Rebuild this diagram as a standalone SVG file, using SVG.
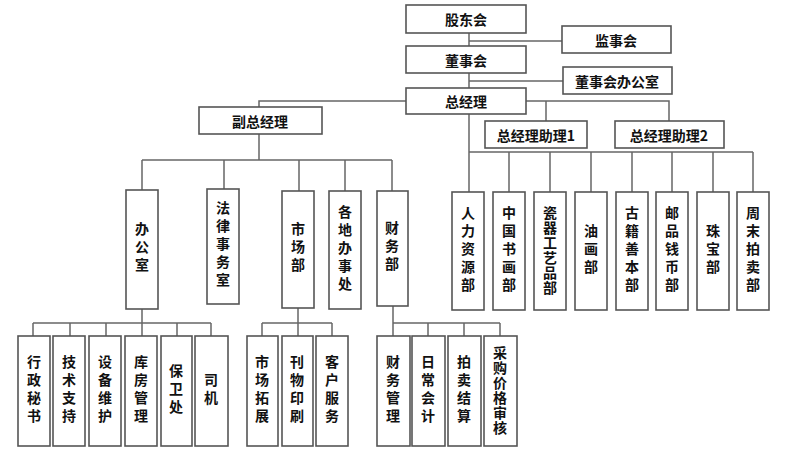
<svg xmlns="http://www.w3.org/2000/svg" width="800" height="456" viewBox="0 0 800 456">
<style>
rect{fill:#fff;stroke:#555;stroke-width:1.6}
.c line,.c polyline{stroke:#666;stroke-width:1.5;fill:none}
text{font-family:"Noto Sans CJK SC","Noto Serif CJK SC",serif;font-weight:bold;font-size:14px;fill:#111;text-anchor:middle;dominant-baseline:central}
.v{writing-mode:vertical-rl;letter-spacing:4px;font-size:14px}
.t{letter-spacing:1px}
</style>
<rect width="800" height="456" fill="#fff" style="stroke:none"/>
<g class="c" id="connectors">
<line x1="469" y1="33" x2="469" y2="46"/><line x1="469" y1="41" x2="562" y2="41"/>
<line x1="469" y1="73" x2="469" y2="88"/><line x1="469" y1="81" x2="563" y2="81"/>
<polyline points="406,101 259,101 259,107"/>
<polyline points="526,101 669,101 669,121"/><line x1="546" y1="101" x2="546" y2="121"/>
<line x1="469" y1="114" x2="469" y2="192"/>
<line x1="469" y1="152" x2="753" y2="152"/>
<line x1="509" y1="152" x2="509" y2="192"/><line x1="550" y1="152" x2="550" y2="192"/><line x1="591" y1="152" x2="591" y2="192"/><line x1="632" y1="152" x2="632" y2="192"/><line x1="672" y1="152" x2="672" y2="192"/><line x1="713" y1="152" x2="713" y2="192"/><line x1="753" y1="152" x2="753" y2="192"/>
<line x1="259" y1="134" x2="259" y2="160"/>
<line x1="142" y1="160" x2="392" y2="160"/>
<line x1="142" y1="160" x2="142" y2="190"/><line x1="224" y1="160" x2="224" y2="189"/><line x1="299" y1="160" x2="299" y2="191"/><line x1="345" y1="160" x2="345" y2="191"/><line x1="392" y1="160" x2="392" y2="191"/>
<line x1="142" y1="309" x2="142" y2="323"/><line x1="33" y1="323" x2="211" y2="323"/>
<line x1="33" y1="323" x2="33" y2="336"/><line x1="70" y1="323" x2="70" y2="336"/><line x1="106" y1="323" x2="106" y2="336"/><line x1="142" y1="323" x2="142" y2="336"/><line x1="177" y1="323" x2="177" y2="336"/><line x1="211" y1="323" x2="211" y2="336"/>
<line x1="298" y1="308" x2="298" y2="323"/><line x1="262" y1="323" x2="332" y2="323"/>
<line x1="262" y1="323" x2="262" y2="336"/><line x1="298" y1="323" x2="298" y2="336"/><line x1="332" y1="323" x2="332" y2="336"/>
<line x1="393" y1="306" x2="393" y2="323"/><line x1="393" y1="323" x2="500" y2="323"/>
<line x1="393" y1="323" x2="393" y2="336"/><line x1="428" y1="323" x2="428" y2="336"/><line x1="464" y1="323" x2="464" y2="336"/><line x1="500" y1="323" x2="500" y2="336"/>
</g>
<g id="n1"><rect x="406" y="5" width="120" height="28"/><text x="466" y="19">股东会</text></g>
<g id="n2"><rect x="562" y="26" width="109" height="27"/><text x="616" y="40">监事会</text></g>
<g id="n3"><rect x="406" y="46" width="120" height="27"/><text x="466" y="60">董事会</text></g>
<g id="n4"><rect x="563" y="67" width="109" height="27"/><text x="617" y="81">董事会办公室</text></g>
<g id="n5"><rect x="406" y="88" width="120" height="26"/><text x="466" y="101">总经理</text></g>
<g id="n6"><rect x="199" y="107" width="123" height="27"/><text x="260" y="121">副总经理</text></g>
<g id="n7"><rect x="485" y="121" width="102" height="27"/><text x="536" y="135">总经理助理1</text></g>
<g id="n8"><rect x="615" y="121" width="109" height="27"/><text x="669" y="135">总经理助理2</text></g>
<g id="d1"><rect x="126" y="190" width="32" height="119"/><text class="v" x="142" y="249">办公室</text></g>
<g id="d2"><rect x="207" y="189" width="32" height="115"/><text class="v" x="223" y="246">法律事务室</text></g>
<g id="d3"><rect x="282" y="191" width="32" height="117"/><text class="v" x="298" y="249">市场部</text></g>
<g id="d4"><rect x="329" y="191" width="32" height="118"/><text class="v" x="345" y="250">各地办事处</text></g>
<g id="d5"><rect x="377" y="191" width="31" height="115"/><text class="v" x="392" y="248">财务部</text></g>
<g id="r1"><rect x="452" y="192" width="32" height="118"/><text class="v" x="468" y="251">人力资源部</text></g>
<g id="r2"><rect x="493" y="192" width="32" height="118"/><text class="v" x="509" y="251">中国书画部</text></g>
<g id="r3"><rect x="534" y="192" width="32" height="118"/><text class="v t" x="550" y="251">瓷器工艺品部</text></g>
<g id="r4"><rect x="575" y="192" width="32" height="118"/><text class="v" x="591" y="251">油画部</text></g>
<g id="r5"><rect x="616" y="192" width="32" height="118"/><text class="v" x="632" y="251">古籍善本部</text></g>
<g id="r6"><rect x="656" y="192" width="32" height="118"/><text class="v" x="672" y="251">邮品钱币部</text></g>
<g id="r7"><rect x="697" y="192" width="32" height="118"/><text class="v" x="713" y="251">珠宝部</text></g>
<g id="r8"><rect x="737" y="192" width="32" height="118"/><text class="v" x="753" y="251">周末拍卖部</text></g>
<g id="b1"><rect x="18" y="336" width="32" height="110"/><text class="v" x="34" y="391">行政秘书</text></g>
<g id="b2"><rect x="53" y="336" width="32" height="110"/><text class="v" x="69" y="391">技术支持</text></g>
<g id="b3"><rect x="89" y="336" width="32" height="110"/><text class="v" x="105" y="391">设备维护</text></g>
<g id="b4"><rect x="125" y="336" width="32" height="110"/><text class="v" x="141" y="391">库房管理</text></g>
<g id="b5"><rect x="161" y="336" width="31" height="110"/><text class="v" x="176" y="391">保卫处</text></g>
<g id="b6"><rect x="195" y="336" width="33" height="110"/><text class="v" x="211" y="391">司机</text></g>
<g id="b7"><rect x="247" y="336" width="31" height="110"/><text class="v" x="262" y="391">市场拓展</text></g>
<g id="b8"><rect x="282" y="336" width="31" height="110"/><text class="v" x="297" y="391">刊物印刷</text></g>
<g id="b9"><rect x="316" y="336" width="32" height="110"/><text class="v" x="332" y="391">客户服务</text></g>
<g id="b10"><rect x="377" y="336" width="33" height="110"/><text class="v" x="393" y="391">财务管理</text></g>
<g id="b11"><rect x="412" y="336" width="33" height="110"/><text class="v" x="428" y="391">日常会计</text></g>
<g id="b12"><rect x="448" y="336" width="33" height="110"/><text class="v" x="464" y="391">拍卖结算</text></g>
<g id="b13"><rect x="484" y="336" width="33" height="110"/><text class="v t" x="500" y="391">采购价格审核</text></g>
</svg>
